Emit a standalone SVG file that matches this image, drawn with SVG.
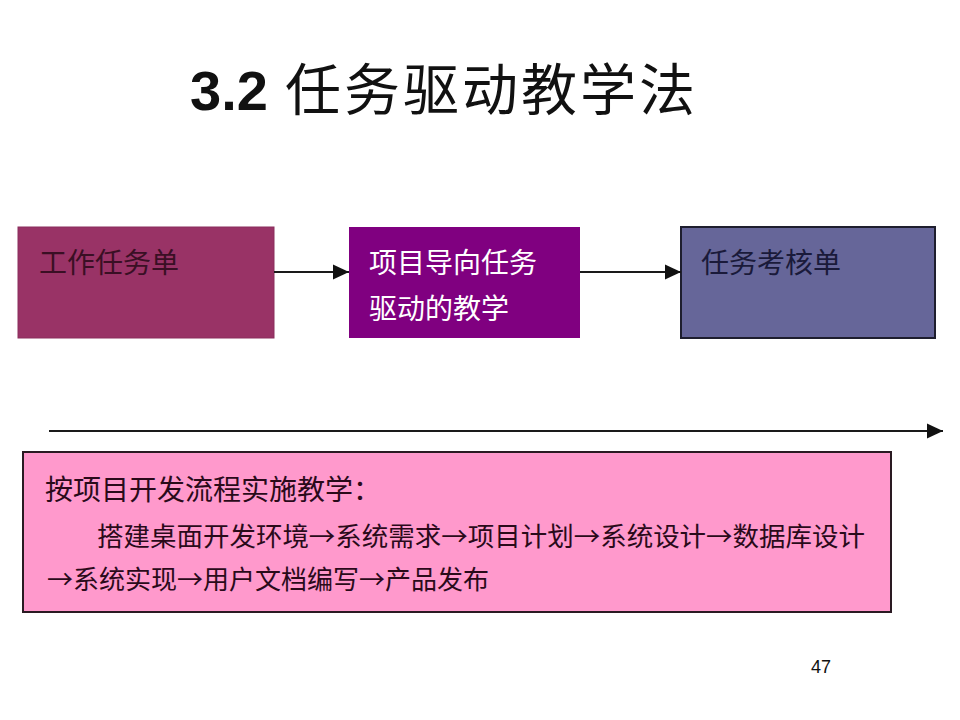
<svg xmlns="http://www.w3.org/2000/svg" width="960" height="720" viewBox="0 0 960 720">
<style>
.cjk{font-family:"Liberation Sans","Noto Sans CJK SC",sans-serif;}
.cjk2{font-family:"Noto Sans CJK SC",sans-serif;}
.box{font-size:28px;}
.conn{stroke:#1a1a1a;stroke-width:2.2;fill:none;}
.pt{font-size:26px;fill:#2a0a1a;}
</style>
<defs>
<marker id="ah" markerWidth="16" markerHeight="16" viewBox="0 0 16 16" refX="16" refY="8" orient="auto" markerUnits="userSpaceOnUse">
<path d="M0,0.5 L16,8 L0,15.5 Z" fill="#111"/>
</marker>
</defs>
<rect width="960" height="720" fill="#fff"/>
<g id="title">
<text x="190" y="110" font-family="'Liberation Sans',Arial,sans-serif" font-weight="bold" font-size="56" fill="#111">3.2</text>
<text x="285" y="110" class="cjk2" font-size="56" letter-spacing="3" fill="#111">任务驱动教学法</text>
</g>
<g id="node-work-sheet">
<rect x="18" y="227" width="256" height="111" fill="#993366" stroke="#8a2f5c" stroke-width="1"/>
<text x="39" y="273" class="cjk box" fill="#3a0f24">工作任务单</text>
</g>
<g id="node-project-teaching">
<rect x="349" y="227" width="231" height="111" fill="#800080"/>
<text x="369" y="273" class="cjk box" fill="#ffffff">项目导向任务</text>
<text x="369" y="319" class="cjk box" fill="#ffffff">驱动的教学</text>
</g>
<g id="node-assessment">
<rect x="681" y="227" width="254" height="111" fill="#666699" stroke="#1e1e2e" stroke-width="2"/>
<text x="701" y="273" class="cjk box" fill="#1a1a3a">任务考核单</text>
</g>
<g id="connectors">
<line class="conn" x1="274" y1="272" x2="349" y2="272" marker-end="url(#ah)"/>
<line class="conn" x1="580" y1="272" x2="681" y2="272" marker-end="url(#ah)"/>
<line class="conn" x1="49" y1="431" x2="943" y2="431" stroke="#333" marker-end="url(#ah)"/>
</g>
<g id="node-process">
<rect x="23" y="452" width="868" height="160" fill="#ff99cc" stroke="#2a1a22" stroke-width="2"/>
<text x="45" y="500" class="cjk2" font-size="28" fill="#2a0a1a">按项目开发流程实施教学：</text>
<text x="97" y="546" class="cjk2 pt" textLength="768" lengthAdjust="spacingAndGlyphs">搭建桌面开发环境→系统需求→项目计划→系统设计→数据库设计</text>
<text x="47" y="589" class="cjk2 pt" textLength="442" lengthAdjust="spacingAndGlyphs">→系统实现→用户文档编写→产品发布</text>
</g>
<g id="page-number">
<text x="811" y="673" font-family="'Liberation Sans',Arial,sans-serif" font-size="18" fill="#111">47</text>
</g>
</svg>
